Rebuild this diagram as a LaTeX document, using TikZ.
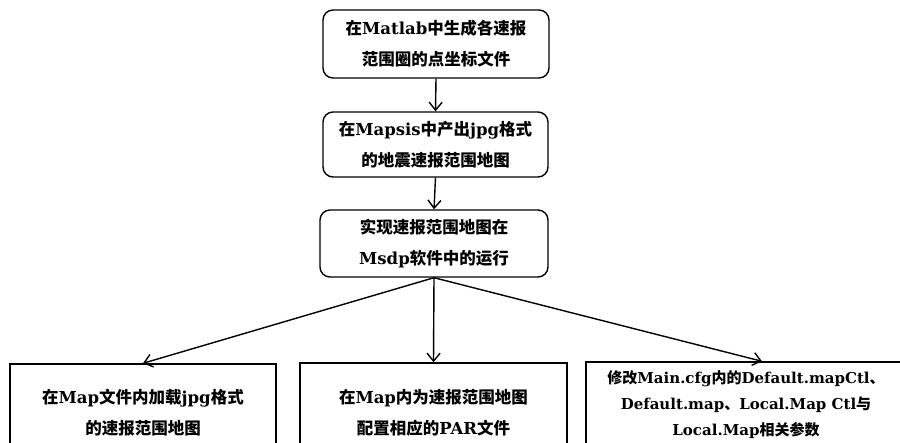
\documentclass[tikz,border=0pt]{standalone}
\usepackage{fontspec}
\setmainfont{DejaVu Serif}
\newfontfamily\cjk{Noto Sans CJK SC}
\usetikzlibrary{arrows.meta}
\newcommand{\C}[1]{{\cjk #1}}
\begin{document}
\begin{tikzpicture}[x=1pt,y=-1pt,
  every node/.style={font=\fontsize{16.5}{31}\selectfont\bfseries, align=center, inner sep=0pt},
  rbox/.style={draw, line width=1.4pt, rounded corners=10pt},
  sbox/.style={draw, line width=1.4pt},
  conn/.style={line width=1.4pt, -{Straight Barb[length=8pt,width=13pt,line width=1.4pt]}}]
\useasboundingbox (0,0) rectangle (900,443);
\clip (0,0) rectangle (900,443);
\node[rbox, minimum width=226pt, minimum height=68pt] (b1) at (436,44)
  {\C{在}Matlab\C{中生成各速报}\\\C{范围圈的点坐标文件}};
\node[rbox, minimum width=225pt, minimum height=65pt] (b2) at (435.5,144.5)
  {\C{在}Mapsis\C{中产出}jpg\C{格式}\\\C{的地震速报范围地图}};
\node[rbox, minimum width=228pt, minimum height=67pt] (b3) at (434,243.5)
  {\C{实现速报范围地图在}\\Msdp\C{软件中的运行}};
\node[sbox, minimum width=266pt, minimum height=98pt] (l) at (143,413)
  {\C{在}Map\C{文件内加载}jpg\C{格式}\\\C{的速报范围地图}};
\node[sbox, minimum width=267pt, minimum height=100pt] (m) at (433.5,413)
  {\C{在}Map\C{内为速报范围地图}\\\C{配置相应的}PAR\C{文件}};
\node[sbox, minimum width=320pt, minimum height=86pt, font=\fontsize{15}{26}\selectfont\bfseries] (r) at (746,405)
  {\C{修改}Main.cfg\C{内的}Default.mapCtl\C{、}\\Default.map\C{、}Local.Map Ctl\C{与}\\Local.Map\C{相关参数}};
\coordinate (o) at (b3.south);
\draw[conn] (b1.south) -- (b2.north);
\draw[conn] (b2.south) -- (b3.north);
\draw[conn] (o) -- (l.north);
\draw[conn] (o) -- (m.north);
\draw[conn] (o) -- (r.north -| 762,0);
\end{tikzpicture}
\end{document}
